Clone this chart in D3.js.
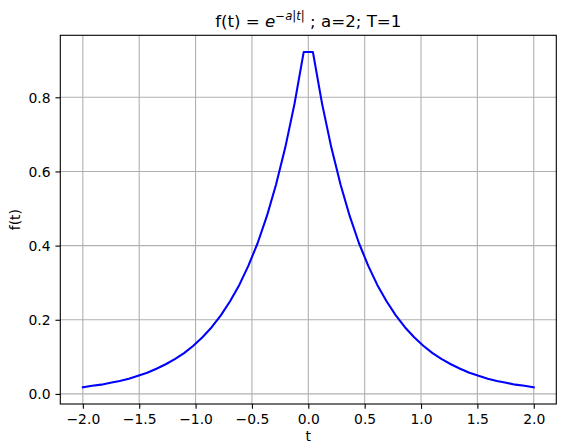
<!DOCTYPE html>
<html>
<head>
<meta charset="utf-8">
<script src="https://cdn.jsdelivr.net/npm/d3@7"></script>
<style>
  html, body { margin: 0; padding: 0; background: #fff; }
  svg text { font-family: "DejaVu Sans", sans-serif; fill: #000; }
</style>
</head>
<body>
<svg id="chart" width="569" height="445"></svg>
<script>
// ---- data ----
const tValues = [-2.000, -1.918, -1.837, -1.755, -1.673, -1.592, -1.510, -1.429, -1.347, -1.265,
  -1.184, -1.102, -1.020, -0.939, -0.857, -0.776, -0.694, -0.612, -0.531, -0.449,
  -0.367, -0.286, -0.204, -0.122, -0.041, 0.041, 0.122, 0.204, 0.286, 0.367,
  0.449, 0.531, 0.612, 0.694, 0.776, 0.857, 0.939, 1.020, 1.102, 1.184,
  1.265, 1.347, 1.429, 1.510, 1.592, 1.673, 1.755, 1.837, 1.918, 2.000];
const fValues = [0.018, 0.022, 0.025, 0.030, 0.035, 0.041, 0.049, 0.057, 0.068, 0.080,
  0.094, 0.110, 0.130, 0.153, 0.180, 0.212, 0.250, 0.294, 0.346, 0.407,
  0.480, 0.565, 0.665, 0.783, 0.922, 0.922, 0.783, 0.665, 0.565, 0.480,
  0.407, 0.346, 0.294, 0.250, 0.212, 0.180, 0.153, 0.130, 0.110, 0.094,
  0.080, 0.068, 0.057, 0.049, 0.041, 0.035, 0.030, 0.025, 0.022, 0.018];
const xTicks = [-2.0, -1.5, -1.0, -0.5, 0.0, 0.5, 1.0, 1.5, 2.0];
const yTicks = [0.0, 0.2, 0.4, 0.6, 0.8];
const xLabel = "t";
const yLabel = "f(t)";

(function () {
// ---- layout ----
const svg = d3.select("#chart");
const L = 60.3, R = 556.3, T = 35.3, B = 404;
const tickLen = 4.86, tickPad = 4.86;
const fmt = v => d3.format(".1f")(v).replace("-", "\u2212");

const xExt = d3.extent(tValues), yExt = d3.extent(fValues);
const xm = (xExt[1] - xExt[0]) * 0.05, ym = (yExt[1] - yExt[0]) * 0.05;
const x = d3.scaleLinear().domain([xExt[0] - xm, xExt[1] + xm]).range([L, R]);
const y = d3.scaleLinear().domain([yExt[0] - ym, yExt[1] + ym]).range([B, T]);

// grid
const grid = svg.append("g").attr("stroke", "#b0b0b0").attr("stroke-width", 1.1);
grid.selectAll("line.gx").data(xTicks).join("line").attr("class", "gx")
  .attr("x1", d => x(d)).attr("x2", d => x(d)).attr("y1", T).attr("y2", B);
grid.selectAll("line.gy").data(yTicks).join("line").attr("class", "gy")
  .attr("x1", L).attr("x2", R).attr("y1", d => y(d)).attr("y2", d => y(d));

// line
const line = d3.line().x((d, i) => x(tValues[i])).y(d => y(d));
svg.append("path").datum(fValues)
  .attr("d", line)
  .attr("fill", "none")
  .attr("stroke", "#0000ff")
  .attr("stroke-width", 2.08)
  .attr("stroke-linejoin", "round")
  .attr("stroke-linecap", "square");

// axes
const xAxis = d3.axisBottom(x).tickValues(xTicks).tickFormat(fmt)
  .tickSizeInner(tickLen).tickSizeOuter(0).tickPadding(tickPad);
const gx = svg.append("g").attr("transform", `translate(0,${B})`).call(xAxis);
gx.select(".domain").remove();
gx.selectAll(".tick line").attr("stroke", "#000").attr("stroke-width", 1.1);
gx.selectAll(".tick text").attr("font-size", 13.9).attr("font-family", "DejaVu Sans")
  .attr("fill", "#000").attr("dy", "0.72em");

const yAxis = d3.axisLeft(y).tickValues(yTicks).tickFormat(fmt)
  .tickSizeInner(tickLen).tickSizeOuter(0).tickPadding(tickPad);
const gy = svg.append("g").attr("transform", `translate(${L},0)`).call(yAxis);
gy.select(".domain").remove();
gy.selectAll(".tick line").attr("stroke", "#000").attr("stroke-width", 1.1);
gy.selectAll(".tick text").attr("font-size", 13.9).attr("font-family", "DejaVu Sans")
  .attr("fill", "#000").attr("dy", "0.36em");

// spines
svg.append("rect").attr("x", L).attr("y", T)
  .attr("width", R - L).attr("height", B - T)
  .attr("fill", "none").attr("stroke", "#000").attr("stroke-width", 1.1);

// labels
svg.append("text").attr("x", (L + R) / 2).attr("y", 441)
  .attr("text-anchor", "middle").attr("font-size", 13.9).text(xLabel);
svg.append("text").attr("transform", `translate(20,${(T + B) / 2}) rotate(-90)`)
  .attr("text-anchor", "middle").attr("font-size", 13.9).text(yLabel);

// title with math
const title = svg.append("text").attr("x", (L + R) / 2).attr("y", 26.5)
  .attr("text-anchor", "middle").attr("font-size", 16.67);
title.append("tspan").text("f(t) = ");
title.append("tspan").attr("font-style", "italic").text("e");
const sup = title.append("tspan").attr("font-size", 11.7).attr("dy", -7);
sup.append("tspan").text("\u2212");
sup.append("tspan").attr("font-style", "italic").text("a");
sup.append("tspan").text("|");
sup.append("tspan").attr("font-style", "italic").text("t");
sup.append("tspan").text("|");
title.append("tspan").attr("dy", 7).text(" ; a=2; T=1");
})();
</script>
</body>
</html>
